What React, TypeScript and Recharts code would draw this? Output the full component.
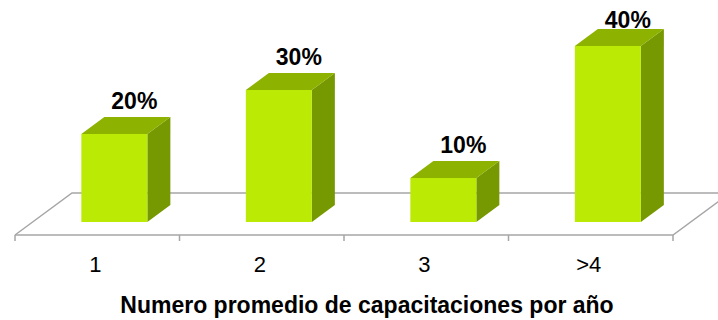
import { BarChart, Bar, XAxis, YAxis, LabelList, Customized } from "recharts";

const CATEGORIES = ["1", "2", "3", ">4"];
const PERCENTS = [20, 30, 10, 40];
const Y_DOMAIN: [number, number] = [0, 40];
const AXIS_TITLE = "Numero promedio de capacitaciones por año";

const W = 718;
const H = 320;
const X_AXIS_H = 30;
const MARGIN = { top: 46, right: 45, bottom: 98 - X_AXIS_H, left: 15 };
const PLOT_BOTTOM = H - 98;

// depth of the floor and of each bar
const FLOOR_DX = 57;
const FLOOR_DY = 42;
const BAR_SHIFT_X = 17;
const BAR_SHIFT_Y = 13;
const BAR_DX = 23;
const BAR_DY = 17;

const FRONT = "#bbea05";
const TOP = "#8db300";
const SIDE = "#769800";
const FLOOR = "#a6a6a6";
const FONT = "Liberation Sans, Arial, sans-serif";

const data = CATEGORIES.map((c, i) => ({ name: c, value: PERCENTS[i] }));

function Bar3D(props: any) {
  const { x, y, width, height } = props;
  const fx = x + BAR_SHIFT_X;
  const top = `${fx},${y} ${fx + BAR_DX},${y - BAR_DY} ${fx + width + BAR_DX},${y - BAR_DY} ${fx + width},${y}`;
  const side = `${fx + width},${y} ${fx + width + BAR_DX},${y - BAR_DY} ${fx + width + BAR_DX},${y + height - BAR_DY} ${fx + width},${y + height}`;
  return (
    <g>
      <polygon points={side} fill={SIDE} />
      <polygon points={top} fill={TOP} />
      <rect x={fx} y={y} width={width} height={height} fill={FRONT} />
    </g>
  );
}

function ValueLabel(props: any) {
  const { x, y, width, value } = props;
  const cx = x + width / 2 + BAR_SHIFT_X + 20;
  const baseline = Math.max(y - BAR_DY - 8, 28);
  return (
    <text x={cx} y={baseline} textAnchor="middle" fontFamily={FONT} fontWeight="bold" fontSize={23} fill="#000">
      {value}%
    </text>
  );
}

function CategoryTick(props: any) {
  const { x, payload } = props;
  return (
    <text x={x - 2} y={272} textAnchor="middle" fontFamily={FONT} fontSize={22} fill="#000">
      {payload.value}
    </text>
  );
}

function Floor() {
  const left = MARGIN.left;
  const right = W - MARGIN.right;
  const front = PLOT_BOTTOM + BAR_SHIFT_Y;
  const back = front - FLOOR_DY;
  const step = (right - left) / CATEGORIES.length;
  const ticks = Array.from({ length: CATEGORIES.length + 1 }, (_, i) => left + i * step);
  return (
    <g stroke={FLOOR} strokeWidth={1.5} fill="none">
      <polyline points={`${left},${front} ${left + FLOOR_DX},${back} ${right + FLOOR_DX},${back}`} />
      <polyline points={`${left},${front} ${right},${front} ${right + FLOOR_DX},${back}`} />
      {ticks.map((t) => (
        <line key={t} x1={t} y1={front} x2={t} y2={front + 6} />
      ))}
    </g>
  );
}

export default function App() {
  return (
    <div style={{ position: "absolute", left: 0, top: 0, width: W, height: H, background: "#fff" }}>
      <BarChart width={W} height={H} data={data} margin={MARGIN} barCategoryGap="30%">
        <Customized component={Floor} />
        <XAxis dataKey="name" height={X_AXIS_H} axisLine={false} tickLine={false} tick={<CategoryTick />} interval={0} />
        <YAxis hide domain={Y_DOMAIN} />
        <Bar dataKey="value" shape={<Bar3D />} isAnimationActive={false}>
          <LabelList dataKey="value" content={<ValueLabel />} />
        </Bar>
        <text x={367} y={313} textAnchor="middle" fontFamily={FONT} fontWeight="bold" fontSize={23} fill="#000">
          {AXIS_TITLE}
        </text>
      </BarChart>
    </div>
  );
}
